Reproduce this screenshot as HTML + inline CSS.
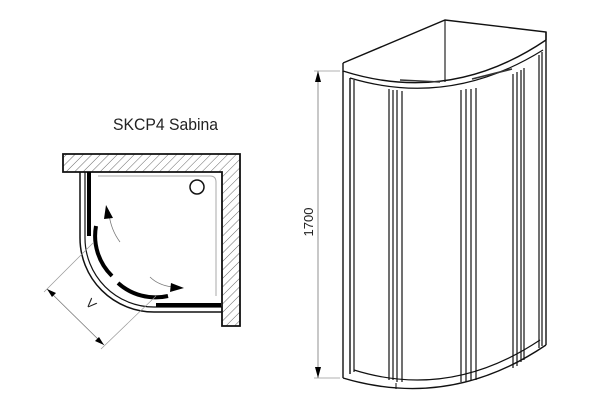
<!DOCTYPE html>
<html><head><style>
html,body{margin:0;padding:0;background:#fff;width:609px;height:411px;overflow:hidden}
svg{display:block}
text{font-family:"Liberation Sans",Arial,sans-serif;fill:#222}
</style></head><body>
<svg width="609" height="411" viewBox="0 0 609 411" xmlns="http://www.w3.org/2000/svg">
<defs>
<pattern id="h" width="6" height="6" patternUnits="userSpaceOnUse" patternTransform="rotate(45)">
<line x1="0" y1="0" x2="0" y2="6" stroke="#555" stroke-width="0.9"/>
</pattern>
</defs>
<text x="113" y="130" font-size="17" textLength="105" lengthAdjust="spacingAndGlyphs">SKCP4  Sabina</text>

<!-- walls -->
<path d="M63 154 H240 V326 H222 V172 H63 Z" fill="url(#h)" stroke="#111" stroke-width="1.8"/>
<!-- tray -->
<path d="M98 176 H210 Q216 176 216 182 V296" fill="none" stroke="#aaa" stroke-width="1"/>
<circle cx="197" cy="187" r="7" fill="#fff" stroke="#111" stroke-width="1.5"/>
<!-- frame outline -->
<path d="M80 172 V238 A74 74 0 0 0 154 312 H222" fill="none" stroke="#111" stroke-width="1.5"/>
<path d="M85 172 V238 A69 69 0 0 0 154 307 H222" fill="none" stroke="#111" stroke-width="1.2"/>
<!-- thick door segments -->
<line x1="89" y1="172" x2="89" y2="236" stroke="#000" stroke-width="4"/>
<path d="M96 226 A56 56 0 0 0 112 276" fill="none" stroke="#000" stroke-width="4"/>
<path d="M118 283 A56 56 0 0 0 168 296" fill="none" stroke="#000" stroke-width="4"/>
<line x1="156" y1="305" x2="221" y2="305" stroke="#000" stroke-width="4"/>
<!-- arrows -->
<path d="M120 242 Q111 230 109 214" fill="none" stroke="#777" stroke-width="0.8"/>
<polygon points="106,205 113,218 104,219" fill="#000"/>
<path d="M150 277 Q158 285 172 287" fill="none" stroke="#777" stroke-width="0.8"/>
<polygon points="184,288 170,292 171,283" fill="#000"/>
<!-- dimension -->
<line x1="47" y1="289" x2="104" y2="345" stroke="#777" stroke-width="0.8"/>
<line x1="44" y1="292" x2="93" y2="243" stroke="#999" stroke-width="0.7"/>
<line x1="101" y1="349" x2="156" y2="296" stroke="#999" stroke-width="0.7"/>
<polygon points="47,289 56,293 52,297" fill="#000"/>
<polygon points="104,345 95,341 99,337" fill="#000"/>
<text x="88" y="307" font-size="13" transform="rotate(45 88 307)" text-anchor="middle">V</text>

<!-- right drawing -->
<path d="M343 63 L445 20 L546 32 L546 40" fill="none" stroke="#111" stroke-width="1.4"/>
<line x1="445" y1="20" x2="445" y2="82" stroke="#111" stroke-width="1.1"/>
<path d="M343 63 V71 Q450 105 546 40" fill="none" stroke="#111" stroke-width="1.4"/>
<path d="M350 78 Q450 108 543 50" fill="none" stroke="#111" stroke-width="1.2"/>
<path d="M400 80 L440 82 M472 79 L512 69" stroke="#333" stroke-width="1.6"/>
<line x1="546" y1="32" x2="546" y2="345" stroke="#111" stroke-width="1.4"/>
<line x1="343" y1="71" x2="343" y2="378" stroke="#111" stroke-width="1.4"/>
<line x1="350" y1="78" x2="350" y2="374" stroke="#111" stroke-width="1.4"/>
<line x1="354" y1="80" x2="354" y2="372" stroke="#111" stroke-width="1.2"/>
<g stroke="#111" stroke-width="1.2">
<line x1="389" y1="89" x2="389" y2="380"/>
<line x1="393" y1="90" x2="393" y2="380"/>
<line x1="397" y1="90" x2="397" y2="382"/>
<line x1="402" y1="91" x2="402" y2="382"/>
<line x1="461" y1="90" x2="461" y2="382"/>
<line x1="466" y1="89" x2="466" y2="382"/>
<line x1="471" y1="89" x2="471" y2="380"/>
<line x1="476" y1="88" x2="476" y2="380"/>
<line x1="513" y1="74" x2="513" y2="368"/>
<line x1="517" y1="72" x2="517" y2="366"/>
<line x1="521" y1="70" x2="521" y2="362"/>
<line x1="524" y1="68" x2="524" y2="360"/>
<line x1="539" y1="55" x2="539" y2="348"/>
<line x1="542" y1="52" x2="542" y2="346"/>
</g>
<path d="M343 378 Q450 410 546 345" fill="none" stroke="#111" stroke-width="1.4"/>
<path d="M354 370 Q450 400 540 340" fill="none" stroke="#111" stroke-width="1.2"/>
<path d="M396 383 V389" stroke="#111"/>
<!-- 1700 dim -->
<line x1="318" y1="71" x2="318" y2="378" stroke="#777" stroke-width="0.8"/>
<line x1="314" y1="71" x2="340" y2="71" stroke="#999" stroke-width="0.7"/>
<line x1="314" y1="378" x2="340" y2="378" stroke="#999" stroke-width="0.7"/>
<polygon points="318,71 315,82 321,82" fill="#000"/>
<polygon points="318,378 315,367 321,367" fill="#000"/>
<text x="313" y="222" font-size="13" transform="rotate(-90 313 222)" text-anchor="middle">1700</text>
</svg>
</body></html>
